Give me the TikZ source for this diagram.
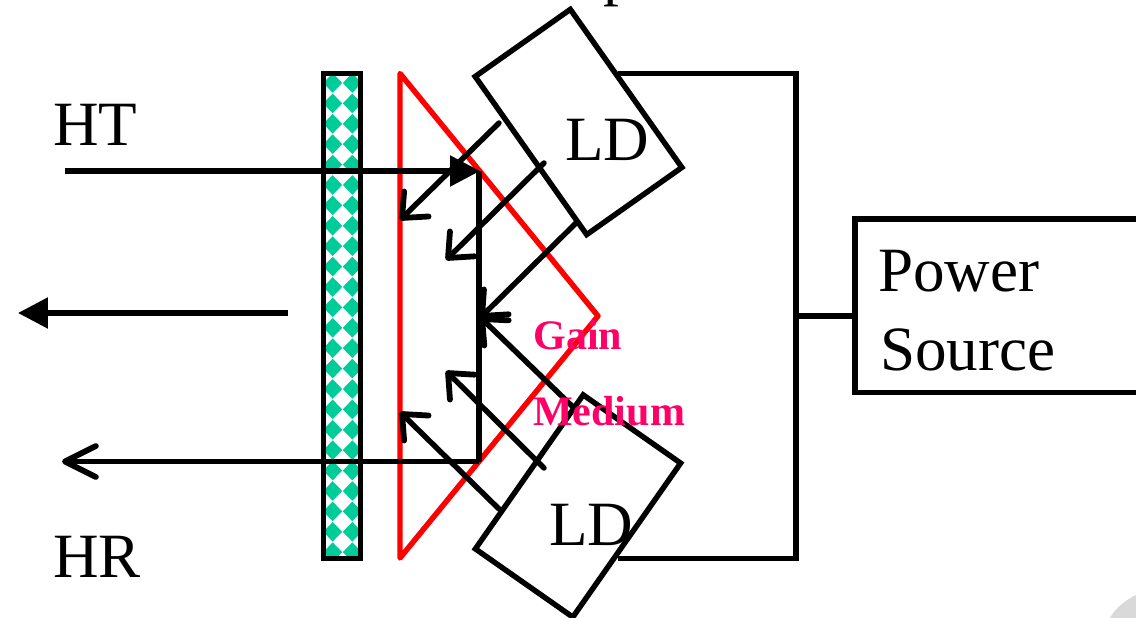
\documentclass[tikz,border=0pt]{standalone}
\usepackage{fontspec}
\setmainfont{Liberation Serif}
\usetikzlibrary{arrows.meta}
\definecolor{RGain}{HTML}{ff0000}
\definecolor{PGain}{HTML}{ff0066}
\definecolor{GBar}{HTML}{00cc99}
\definecolor{LCorner}{HTML}{d9d9d9}
\tikzset{
    wire/.style = {draw, line width=3.1pt, line join=miter},
    ldbox/.style = {draw, rectangle, line width=3.1pt, inner sep=0pt, outer sep=0pt, minimum height=2.33cm},
    label/.style = {anchor=base west, inner sep=0pt, font=\fontsize{35.9}{40}\selectfont},
    gain/.style = {anchor=base west, inner sep=0pt, color=PGain, font=\fontsize{23.9}{28}\selectfont\bfseries},
    beam/.style = {wire, -{Straight Barb[length=4mm,width=7mm,round,line width=3.3pt]}, line cap=round},
    solidtip/.style = {wire, -{Triangle[length=6mm,width=6mm]}},
    opentip/.style = {wire, -{Straight Barb[length=6.2mm,width=6.2mm,round,line width=3.3pt]}}
}
\begin{document}
\begin{tikzpicture}[x=0.02cm,y=-0.02cm]
    \useasboundingbox (0,0) rectangle (1136,618);
    \fill[LCorner] (1110,618) .. controls (1116,607) and (1126,600) .. (1136,595) -- (1136,618) -- cycle;
    % mirror bar
    \begin{scope}
        \clip (323.5,73.5) rectangle (360.5,558.5);
        \foreach \i in {0,1,...,23} {
            \foreach \c in {332.7,352.3} {
                \fill[GBar] ({\c-9.5},{83+20.4*\i}) -- (\c,{83+20.4*\i-9.8}) -- ({\c+9.5},{83+20.4*\i}) -- (\c,{83+20.4*\i+9.8}) -- cycle;
            }
        }
    \end{scope}
    \node[draw, line width=3.1pt, inner sep=0pt, minimum width=0.74cm, minimum height=9.7cm] (bar) at (342,316) {};
    % gain medium
    \draw[color=RGain, line width=3.1pt, line join=round] (400,73.5) -- (598,316) -- (400,558) -- cycle;
    % laser diodes
    \node[ldbox, minimum width=3.87cm, rotate=-54.8] (ldtop) at (578.5,122) {};
    \node[ldbox, minimum width=3.76cm, minimum height=2.38cm, rotate=55] (ldbot) at (578,506) {};
    % named ends
    \coordinate (htstart) at (65,171);
    \coordinate (httip) at (480,171);
    \coordinate (hrcorner) at (479,461.5);
    \coordinate (hrend) at (62,461.5);
    \coordinate (outstart) at (288,313);
    \coordinate (outend) at (18,313);
    \coordinate (wiretop) at (618,73.5);
    \coordinate (cornertop) at (796,73.5);
    \coordinate (cornerbot) at (796,558.5);
    \coordinate (wirebot) at (618,558.5);
    \coordinate (junction) at (796,316);
    % pump beams
    \draw[beam] (499,123) -- (400,220);
    \draw[beam] (544,163) -- (446,260);
    \draw[beam] (577,222) -- (480,318);
    \draw[beam] (499,509) -- (400,412);
    \draw[beam] (544,468) -- (446,371);
    \draw[beam] (573,407) -- (480,317);
    % light path
    \draw[solidtip] (htstart) -- (httip);
    \draw[wire] (479,171) -- (hrcorner);
    \draw[opentip] (hrcorner) -- (hrend);
    \draw[solidtip] (outstart) -- (outend);
    % power wiring
    \node[draw, line width=3.1pt, anchor=north west, inner sep=0pt, outer sep=0pt, minimum width=7cm, minimum height=3.47cm] (power) at (855,219) {};
    \draw[wire] (wiretop) -- (cornertop) -- (cornerbot) -- (wirebot);
    \draw[wire] (junction) -- (junction -| power.west);
    % labels
    \node[label] (ht) at (53,146) {HT};
    \node[label] (hr) at (53,577) {HR};
    \node[label] (ldtxt) at (565,161) {LD};
    \node[label] (ldbtxt) at (549,545) {LD};
    \node[label] (powertxt) at (878,292) {Power};
    \node[label] (sourcetxt) at (880,370) {Source};
    \node[label] (cuttxt) at (603,-6) {p};
    \node[gain] (gaintxt) at (533,349) {Gain};
    \node[gain] (mediumtxt) at (533,425) {Medium};
\end{tikzpicture}
\end{document}
